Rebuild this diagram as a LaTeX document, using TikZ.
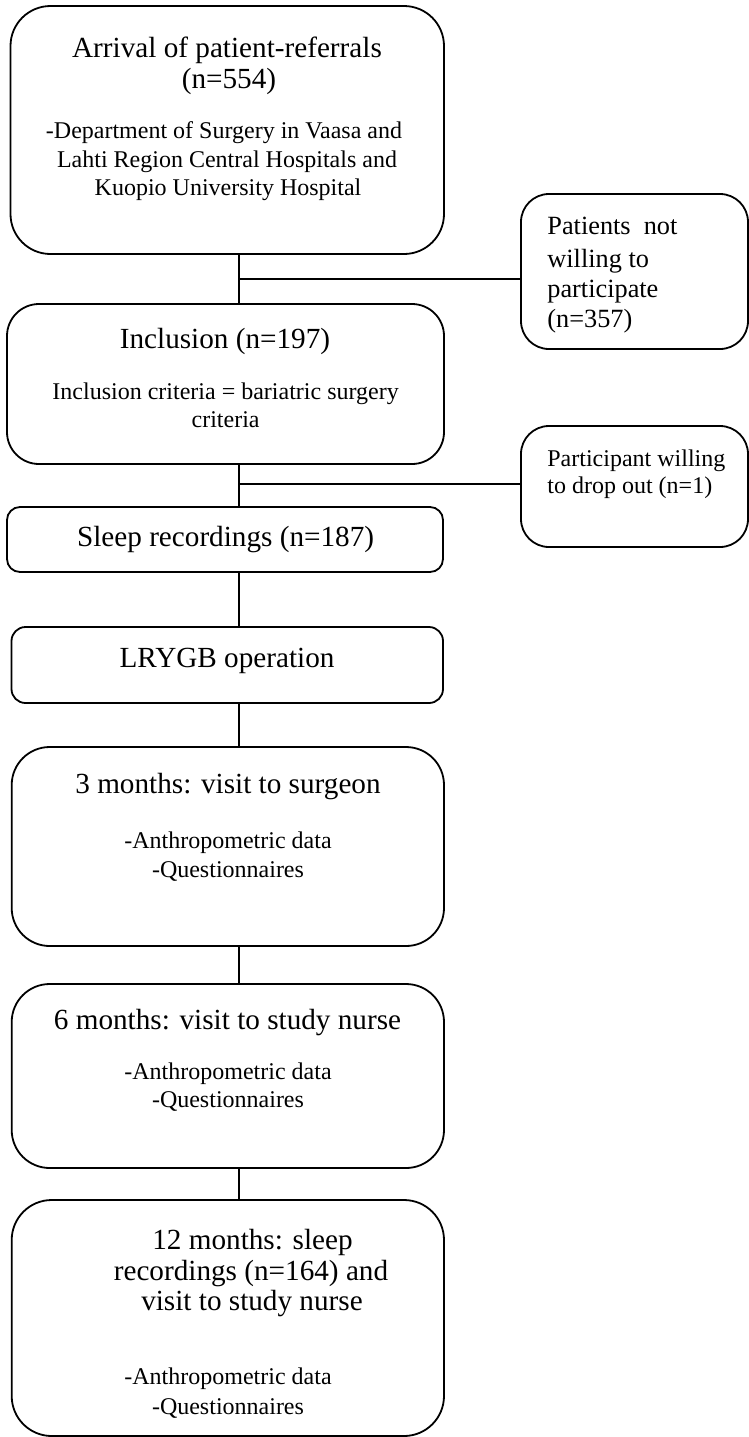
\documentclass[tikz,border=0pt]{standalone}
\usepackage{fontspec}
\setmainfont{Liberation Serif}
\usepackage{tikz}
\tikzset{blk/.style={draw, line width=0.9pt, rounded corners=#1, inner sep=0pt}}
\tikzset{head/.style={font=\fontsize{14.6}{17}\selectfont, anchor=base, inner sep=0pt}}
\tikzset{body/.style={font=\fontsize{12}{14}\selectfont, anchor=base, inner sep=0pt}}
\tikzset{side/.style={anchor=base west, inner sep=0pt}}
\tikzset{link/.style={line width=0.9pt}}

\begin{document}
\begin{tikzpicture}[x=0.5pt,y=-0.5pt]
\useasboundingbox (0,0) rectangle (749,1437);
% boxes
\node[blk=20pt, minimum width=216.75pt, minimum height=124pt] (arrival) at (227.25,130) {};
\node[blk=16pt, minimum width=218.5pt, minimum height=80pt] (incl) at (225.5,384) {};
\node[blk=6.5pt, minimum width=218pt, minimum height=32.5pt] (sleep) at (225,539.5) {};
\node[blk=7pt, minimum width=215.75pt, minimum height=38pt] (lrygb) at (227.25,665) {};
\node[blk=19pt, minimum width=216.15pt, minimum height=99.5pt] (three) at (227.85,846.5) {};
\node[blk=19pt, minimum width=216.15pt, minimum height=92pt] (six) at (227.85,1076) {};
\node[blk=20pt, minimum width=216.15pt, minimum height=118pt] (twelve) at (227.85,1318) {};
\node[blk=14pt, minimum width=113.5pt, minimum height=77.5pt] (refuse) at (634.5,271.5) {};
\node[blk=14pt, minimum width=113.5pt, minimum height=60.5pt] (dropout) at (634.5,486.5) {};
% connectors
\coordinate (j1) at (239,279);
\coordinate (j2) at (239,484);
\draw[link] (arrival.south -| j1) -- (incl.north -| j1);
\draw[link] (j1) -- (j1 -| refuse.west);
\draw[link] (incl.south -| j1) -- (sleep.north -| j1);
\draw[link] (j2) -- (j2 -| dropout.west);
\draw[link] (sleep.south -| j1) -- (lrygb.north -| j1);
\draw[link] (lrygb.south -| j1) -- (three.north -| j1);
\draw[link] (three.south -| j1) -- (six.north -| j1);
\draw[link] (six.south -| j1) -- (twelve.north -| j1);
% texts
\foreach \x/\y/\t in {227/57/{Arrival of patient-referrals}, 229/88/{(n=554)},
  225/348/{Inclusion (n=197)}, 225.6/546/{Sleep recordings (n=187)},
  227/667/{LRYGB operation}, 228/793/{3 months: visit to surgeon},
  227.5/1029/{6 months: visit to study nurse}, 252.5/1249/{12 months: sleep},
  251/1280/{recordings (n=164) and}, 252/1310/{visit to study nurse}} {
\node[head] (h\y) at (\x,\y) {\t};
}
\foreach \x/\y/\t in {224/138/{-Department of Surgery in Vaasa and},
  227/167/{Lahti Region Central Hospitals and}, 228/195/{Kuopio University Hospital},
  225.6/399/{Inclusion criteria = bariatric surgery}, 225.6/427/{criteria},
  228/848/{-Anthropometric data}, 228/877/{-Questionnaires},
  228/1079/{-Anthropometric data}, 228/1107/{-Questionnaires},
  228/1384/{-Anthropometric data}, 228/1414/{-Questionnaires}} {
\node[body] (b\y) at (\x,\y) {\t};
}
\foreach \y/\t in {234/{Patients~~not}, 267/{willing to}, 297/{participate}, 327/{(n=357)}} {
\node[side, font=\fontsize{13.15}{15}\selectfont] (s\y) at (547,\y) {\t};
}
\foreach \y/\t in {466/{Participant willing}, 493/{to drop out (n=1)}} {
\node[side, font=\fontsize{12}{14}\selectfont] (s\y) at (547,\y) {\t};
}
\end{tikzpicture}
\end{document}
